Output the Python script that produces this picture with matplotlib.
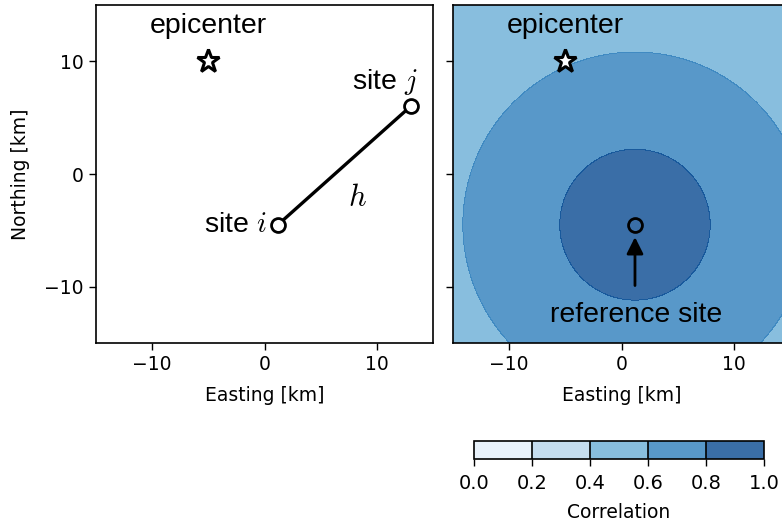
import numpy as np
import matplotlib
matplotlib.use("Agg")
import matplotlib.pyplot as plt

# ---- data ----
epicenter = [-5.0, 10.0]
site_i = [1.2, -4.5]
site_j = [13.0, 6.0]
corr_length = 30.0          # exponential correlation length [km]
levels = [0.0, 0.2, 0.4, 0.6, 0.8, 1.0]
ticks = [-10, 0, 10]
lims = [-15, 15]

plt.rcParams['mathtext.fontset'] = 'cm'
ANN = dict(family='Liberation Sans', fontsize=20.5)

fig = plt.figure(figsize=(7.82, 5.22), dpi=100)
W, H = 782, 522
def ax_rect(x0, y0, x1, y1):
    return [x0 / W, 1 - y1 / H, (x1 - x0) / W, (y1 - y0) / H]

ax1 = fig.add_axes(ax_rect(96, 5, 433, 343))
ax2 = fig.add_axes(ax_rect(453, 5, 790, 343))
cax = fig.add_axes(ax_rect(474, 441, 764, 459))

for ax in (ax1, ax2):
    ax.set_xlim(lims)
    ax.set_ylim(lims)
    ax.set_xticks(ticks)
    ax.set_yticks(ticks)
    ax.tick_params(labelsize=13.5, length=5, width=1, pad=4)
    for s in ax.spines.values():
        s.set_linewidth(1.2)
    ax.set_xlabel('Easting [km]', fontsize=13.5, labelpad=8)
ax1.set_ylabel('Northing [km]', fontsize=13.5, labelpad=10)
ax2.set_yticklabels([])

# ---- left panel ----
ax1.plot([site_i[0], site_j[0]], [site_i[1], site_j[1]], color='black', lw=2.4,
         marker='o', ms=10, mfc='white', mec='black', mew=2, zorder=3)
ax1.plot(epicenter[0], epicenter[1], marker='*', ms=17, mfc='white', mec='black',
         mew=2.2, ls='none', zorder=4)
ax1.text(epicenter[0], 13.1, 'epicenter', ha='center', va='center', **ANN)
ax1.text(site_i[0] - 1.0, site_i[1], 'site $i$', ha='right', va='center', **ANN)
ax1.text(13.6, 8.2, 'site $j$', ha='right', va='center', **ANN)
ax1.text(8.3, -2.1, '$h$', ha='center', va='center', fontsize=22)

# ---- right panel ----
x = np.linspace(lims[0], lims[1], 601)
X, Y = np.meshgrid(x, x)
D = np.hypot(X - site_i[0], Y - site_i[1])
R = np.exp(-D / corr_length)
cs = ax2.contourf(X, Y, R, levels=levels, cmap='Blues', alpha=0.8)
ax2.plot(site_i[0], site_i[1], marker='o', ms=10, mfc='none', mec='black', mew=2, zorder=4)
ax2.plot(epicenter[0], epicenter[1], marker='*', ms=17, mfc='white', mec='black',
         mew=2.2, ls='none', zorder=4)
ax2.text(epicenter[0], 13.1, 'epicenter', ha='center', va='center', **ANN)
ax2.annotate('', xy=(site_i[0], site_i[1] - 1.1), xytext=(site_i[0], -9.9),
             arrowprops=dict(arrowstyle='-|>', color='black', lw=2,
                             mutation_scale=25, shrinkA=0, shrinkB=0))
ax2.text(site_i[0] + 0.1, -12.5, 'reference site', ha='center', va='center', **ANN)

cb = fig.colorbar(cs, cax=cax, orientation='horizontal', drawedges=True)
cb.set_ticks(levels)
cb.ax.tick_params(labelsize=14, length=5, width=1, pad=6)
cb.set_label('Correlation', fontsize=13.5, labelpad=7)
cb.outline.set_linewidth(1.2)
cb.dividers.set_linewidth(1.2)

fig.savefig('out.png', dpi=100)
